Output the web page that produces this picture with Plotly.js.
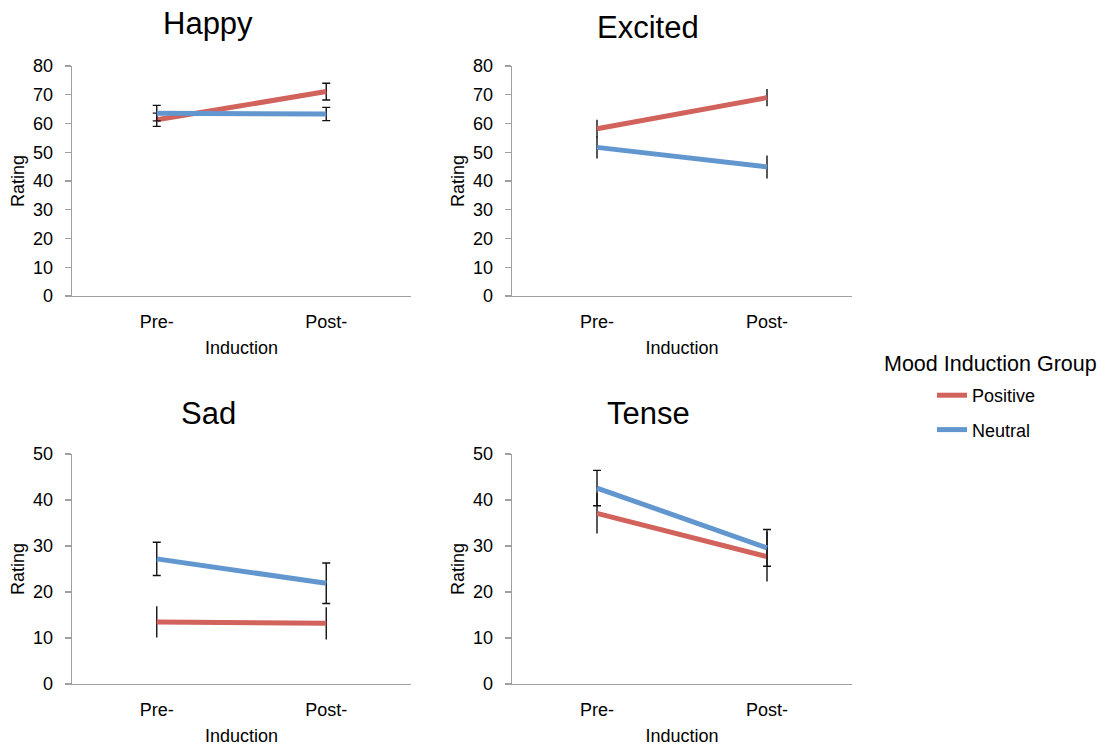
<!DOCTYPE html>
<html>
<head>
<meta charset="utf-8">
<script src="https://cdn.plot.ly/plotly-3.0.1.min.js"></script>
<style>html,body{margin:0;padding:0;background:#fff;}#chart{width:1102px;height:747px;}</style>
</head>
<body>
<div id="chart"></div>
<script>
// ---- data ----
const timepoints = ["Pre-", "Post-"];
const groupNames = ["Positive", "Neutral"];
const panelTitles = ["Happy", "Excited", "Sad", "Tense"];

const happyPositive = [61.3, 71.1];
const happyPositiveErr = [2.3, 2.9];
const happyNeutral = [63.6, 63.3];
const happyNeutralErr = [2.7, 2.3];

const excitedPositive = [58.2, 69.0];
const excitedPositiveErr = [3.1, 3.0];
const excitedNeutral = [51.7, 44.9];
const excitedNeutralErr = [3.9, 4.0];

const sadPositive = [13.5, 13.2];
const sadPositiveErr = [3.4, 3.5];
const sadNeutral = [27.2, 21.9];
const sadNeutralErr = [3.6, 4.4];

const tensePositive = [37.1, 27.7];
const tensePositiveErr = [4.4, 5.4];
const tenseNeutral = [42.6, 29.6];
const tenseNeutralErr = [3.85, 4.0];

const yTicksTop = [0, 10, 20, 30, 40, 50, 60, 70, 80];
const yTicksBottom = [0, 10, 20, 30, 40, 50];

// ---- styles ----
const FONT = "Liberation Sans, Arial, sans-serif";
const RED = "rgb(209,98,92)";
const BLUE = "rgb(97,150,206)";
const AXIS = "#a0a0a0";

const panels = [
  {pos: happyPositive, posErr: happyPositiveErr, neu: happyNeutral, neuErr: happyNeutralErr, capPos: 4, capNeu: 4, ax: ""},
  {pos: excitedPositive, posErr: excitedPositiveErr, neu: excitedNeutral, neuErr: excitedNeutralErr, capPos: 0, capNeu: 0, ax: "2"},
  {pos: sadPositive, posErr: sadPositiveErr, neu: sadNeutral, neuErr: sadNeutralErr, capPos: 0, capNeu: 4, ax: "3"},
  {pos: tensePositive, posErr: tensePositiveErr, neu: tenseNeutral, neuErr: tenseNeutralErr, capPos: 0, capNeu: 4, ax: "4"}
];

const traces = [];
panels.forEach((p, i) => {
  const series = [
    {name: groupNames[0], y: p.pos, err: p.posErr, color: RED, cap: p.capPos},
    {name: groupNames[1], y: p.neu, err: p.neuErr, color: BLUE, cap: p.capNeu}
  ];
  series.forEach(s => {
    traces.push({
      type: "scatter", mode: "lines",
      x: timepoints, y: s.y,
      name: s.name, legendgroup: s.name,
      showlegend: i === 0,
      line: {color: s.color, width: 5},
      error_y: {type: "data", array: s.err, visible: true, color: "#111", thickness: 1.4, width: s.cap},
      xaxis: "x" + p.ax, yaxis: "y" + p.ax,
      hoverinfo: "skip"
    });
  });
});

const xDomL = [72/1102, 411/1102];
const xDomR = [512/1102, 852/1102];
const yDomT = [1 - 296/747, 1 - 66/747];
const yDomB = [1 - 684/747, 1 - 454/747];

function xAxis(domain, anchor) {
  return {
    domain: domain, anchor: anchor, type: "category", range: [-0.5, 1.5],
    showline: true, linecolor: AXIS, linewidth: 1.3, showgrid: false, zeroline: false,
    ticks: "", tickfont: {family: FONT, size: 18, color: "#000"}, ticklabelstandoff: 9,
    title: {text: "Induction", font: {family: FONT, size: 18, color: "#000"}, standoff: 10},
    fixedrange: true
  };
}
function yAxis(domain, anchor, ticks) {
  return {
    domain: domain, anchor: anchor, range: [0, ticks[ticks.length - 1]],
    tickvals: ticks, ticks: "outside", ticklen: 6, tickcolor: AXIS, tickwidth: 1.3,
    showline: true, linecolor: AXIS, linewidth: 1.3, showgrid: false, zeroline: false,
    tickfont: {family: FONT, size: 18, color: "#000"}, ticklabelstandoff: 8,
    title: {text: "Rating", font: {family: FONT, size: 18, color: "#000"}, standoff: 3},
    fixedrange: true
  };
}

const titlePos = [
  {x: 208, y: 23}, {x: 648, y: 27}, {x: 208, y: 413}, {x: 648, y: 413}
];
const annotations = panelTitles.map((t, i) => ({
  text: t, xref: "paper", yref: "paper",
  x: titlePos[i].x / 1102, y: 1 - titlePos[i].y / 747,
  xanchor: "center", yanchor: "middle", showarrow: false,
  font: {family: FONT, size: 31, color: "#000"}
}));
annotations.push({
  text: "Mood Induction Group", xref: "paper", yref: "paper",
  x: 990 / 1102, y: 1 - 364 / 747, xanchor: "center", yanchor: "middle", showarrow: false,
  font: {family: FONT, size: 21.5, color: "#000"}
});

const layout = {
  width: 1102, height: 747,
  margin: {l: 0, r: 0, t: 0, b: 0},
  paper_bgcolor: "#fff", plot_bgcolor: "#fff",
  showlegend: true,
  legend: {
    x: 932 / 1102, y: 1 - 377 / 747, xanchor: "left", yanchor: "top",
    font: {family: FONT, size: 18, color: "#000"},
    itemwidth: 30, tracegroupgap: 8, bgcolor: "rgba(0,0,0,0)", borderwidth: 0
  },
  xaxis: xAxis(xDomL, "y"), yaxis: yAxis(yDomT, "x", yTicksTop),
  xaxis2: xAxis(xDomR, "y2"), yaxis2: yAxis(yDomT, "x2", yTicksTop),
  xaxis3: xAxis(xDomL, "y3"), yaxis3: yAxis(yDomB, "x3", yTicksBottom),
  xaxis4: xAxis(xDomR, "y4"), yaxis4: yAxis(yDomB, "x4", yTicksBottom),
  annotations: annotations
};

Plotly.newPlot("chart", traces, layout, {displayModeBar: false, staticPlot: true});
</script>
</body>
</html>
